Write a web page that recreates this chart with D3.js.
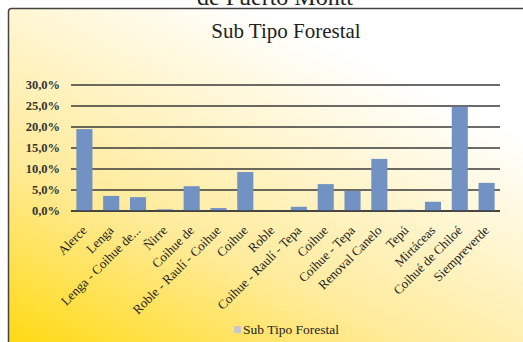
<!DOCTYPE html>
<html><head><meta charset="utf-8">
<script src="https://cdn.jsdelivr.net/npm/d3@7"></script>
<style>html,body{margin:0;padding:0;background:#fff;overflow:hidden}</style>
</head><body><div id="chart"></div>
<script>
const categories = ["Alerce","Lenga","Lenga - Coihue de...","Ñirre","Coihue de","Roble - Raulí - Coihue","Coihue","Roble","Coihue - Raulí - Tepa","Coihue","Coihue - Tepa","Renoval Canelo","Tepú","Mirtáceas","Coihué de Chiloé","Siempreverde"];
const values = [19.5,3.6,3.3,0.4,5.9,0.7,9.3,0.0,1.0,6.4,4.8,12.4,0.3,2.2,24.8,6.7];
const yTicks = [0,5,10,15,20,25,30];
const seriesName = "Sub Tipo Forestal";
const chartTitle = "Sub Tipo Forestal";
const outerTitle = "de Puerto Montt";

const W = 523, H = 342;
const svg = d3.select("#chart").append("svg").attr("width", W).attr("height", H);
const defs = svg.append("defs");
const g = defs.append("linearGradient").attr("id","bg").attr("x1","0").attr("y1","1").attr("x2","0.62").attr("y2","0.12");
g.append("stop").attr("offset","0").attr("stop-color","#ffd700");
g.append("stop").attr("offset","0.45").attr("stop-color","#ffeb9a");
g.append("stop").attr("offset","1").attr("stop-color","#ffffff");

const serif = "'Liberation Serif', 'DejaVu Serif', serif";

svg.append("text").attr("x", 275).attr("y", 5).attr("text-anchor","middle")
  .attr("font-family", serif).attr("font-size", 24).attr("fill","#222").text(outerTitle);

svg.append("rect").attr("x", 8.5).attr("y", 8.5).attr("width", 540).attr("height", 360)
  .attr("rx", 3).attr("fill","url(#bg)").attr("stroke","#444").attr("stroke-width",1.5);

svg.append("text").attr("x", 286).attr("y", 38).attr("text-anchor","middle")
  .attr("font-family", serif).attr("font-size", 21).attr("fill","#222").text(chartTitle);

const x = d3.scaleBand().domain(d3.range(categories.length)).range([71, 500]).paddingInner(0.4).paddingOuter(0.2);
const y = d3.scaleLinear().domain([0,30]).range([211, 85]);

const grid = svg.append("g");
grid.selectAll("line").data(yTicks).join("line")
  .attr("x1", 71).attr("x2", 500).attr("y1", d => y(d)).attr("y2", d => y(d))
  .attr("stroke", "#3a3a3a").attr("stroke-width", 1.7);

svg.append("g").selectAll("text").data(yTicks).join("text")
  .attr("x", 60).attr("y", d => y(d)).attr("dy","0.35em").attr("text-anchor","end")
  .attr("font-family", serif).attr("font-size", 12.5).attr("font-weight","bold").attr("fill","#333")
  .text(d => d3.format(".1f")(d).replace(".",",") + "%");

svg.append("g").selectAll("rect").data(values).join("rect")
  .attr("x", (d,i) => x(i)).attr("width", x.bandwidth())
  .attr("y", d => y(d)).attr("height", d => y(0) - y(d))
  .attr("fill", "#7292c3");

svg.append("line").attr("x1",71).attr("x2",500).attr("y1",y(0)).attr("y2",y(0)).attr("stroke","#3a3a3a").attr("stroke-width",1.7);

svg.append("g").selectAll("text").data(categories).join("text")
  .attr("transform", (d,i) => `translate(${x(i)+x.bandwidth()/2},${y(0)+17}) rotate(-45)`)
  .attr("text-anchor","end").attr("dy","0.35em")
  .attr("font-family", serif).attr("font-size", 13).attr("fill","#222")
  .text(d => d);

svg.append("rect").attr("x",234).attr("y",326).attr("width",7).attr("height",7).attr("fill","#c8c8c8");
svg.append("text").attr("x",243).attr("y",334).attr("font-family",serif).attr("font-size",13.5).attr("fill","#222").text(seriesName);
</script>
</body></html>
